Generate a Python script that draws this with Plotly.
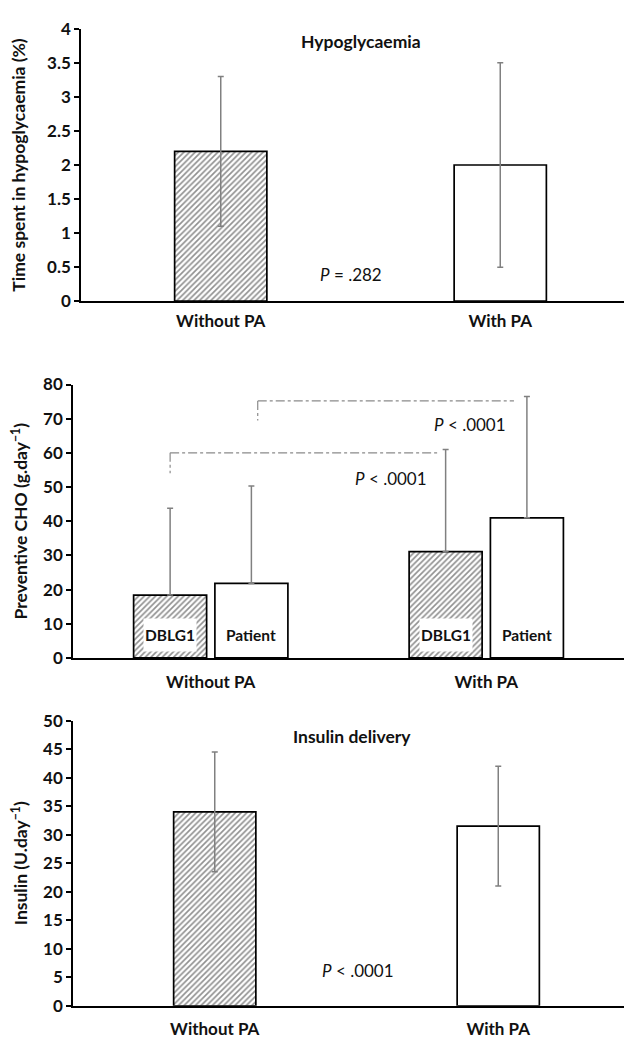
import plotly.graph_objects as go

# ---------------- data ----------------
categories = ["Without PA", "With PA"]

hypo_mean = [2.2, 2.0]
hypo_sd = [1.1, 1.5]
hypo_p = "<i>P</i> = .282"

cho_groups = ["DBLG1", "Patient"]
cho_dblg1 = [18.4, 31.1]
cho_dblg1_sd = [25.4, 29.9]
cho_patient = [21.8, 41.0]
cho_patient_sd = [28.5, 35.5]
cho_brackets = [60, 75.2]          # bracket levels (g/day)
cho_bracket_drop = [54, 69.5]
cho_p_text = ["<i>P</i> < .0001", "<i>P</i> < .0001"]

insulin_mean = [34.0, 31.5]
insulin_sd = [10.5, 10.5]
insulin_p = "<i>P</i> < .0001"

FONT = "Lato"
W, H = 632, 1046
OFF = 8  # page offset of the plot inside the browser body

hatch = dict(shape="/", fgcolor="#222222", bgcolor="white", size=4, solidity=0.42, fillmode="overlay")
err_style = dict(type="data", color="#808080", thickness=1.5, width=3, visible=True)
outline = dict(color="black", width=1.7)


def ydom(top_px, bot_px):
    top_px -= OFF
    bot_px -= OFF
    return [1 - bot_px / H, 1 - top_px / H]


def xstart(px):
    return (px - OFF) / W


fig = go.Figure()

# ---- panel 1: hypoglycaemia
fig.add_trace(go.Bar(
    x=categories[:1], y=hypo_mean[:1], width=0.33, xaxis="x", yaxis="y",
    marker=dict(color="white", line=outline, pattern=hatch),
    error_y=dict(array=hypo_sd[:1], **err_style), showlegend=False))
fig.add_trace(go.Bar(
    x=categories[1:], y=hypo_mean[1:], width=0.33, xaxis="x", yaxis="y",
    marker=dict(color="white", line=outline),
    error_y=dict(array=hypo_sd[1:], **err_style), showlegend=False))

# ---- panel 2: preventive CHO
off_d, off_p, bw = -0.28, 0.015, 0.265
fig.add_trace(go.Bar(
    x=categories, y=cho_dblg1, width=bw, offset=off_d, xaxis="x2", yaxis="y2",
    marker=dict(color="white", line=outline, pattern=hatch),
    error_y=dict(array=cho_dblg1_sd, arrayminus=[0, 0], **err_style), showlegend=False))
fig.add_trace(go.Bar(
    x=categories, y=cho_patient, width=bw, offset=off_p, xaxis="x2", yaxis="y2",
    marker=dict(color="white", line=outline),
    error_y=dict(array=cho_patient_sd, arrayminus=[0, 0], **err_style), showlegend=False))

# ---- panel 3: insulin
fig.add_trace(go.Bar(
    x=categories[:1], y=insulin_mean[:1], width=0.29, xaxis="x3", yaxis="y3",
    marker=dict(color="white", line=outline, pattern=hatch),
    error_y=dict(array=insulin_sd[:1], **err_style), showlegend=False))
fig.add_trace(go.Bar(
    x=categories[1:], y=insulin_mean[1:], width=0.29, xaxis="x3", yaxis="y3",
    marker=dict(color="white", line=outline),
    error_y=dict(array=insulin_sd[1:], **err_style), showlegend=False))

tickfont = dict(family=FONT, size=17, color="#111", weight="bold")
titlefont = dict(family=FONT, size=17.5, color="#111", weight="bold")


def xax(domain, standoff, anchor, rng):
    return dict(domain=domain, type="category", showline=True, linecolor="black", linewidth=1.6,
                ticks="", showgrid=False, zeroline=False, tickfont=tickfont, anchor=anchor,
                ticklabelstandoff=standoff, range=rng, fixedrange=True)


def yax(domain, rng, dtick, title, anchor, tstandoff):
    return dict(domain=domain, range=rng, dtick=dtick, showline=True, linecolor="black", linewidth=1.6,
                ticks="outside", ticklen=5, tickwidth=1.5, tickcolor="black", showgrid=False,
                zeroline=False, tickfont=tickfont, anchor=anchor, fixedrange=True,
                title=dict(text=title, font=titlefont, standoff=tstandoff))


fig.update_layout(
    width=W, height=H, margin=dict(l=0, r=0, t=0, b=0),
    paper_bgcolor="white", plot_bgcolor="white", barmode="overlay",
    xaxis=xax([xstart(81), 1], 4, "y", [-0.5, 1.5]),
    yaxis=yax(ydom(18, 296), [0, 4], 0.5, "Time spent in hypoglycaemia (%)", "x", 17),
    xaxis2=xax([xstart(73), 1], 8, "y2", [-0.5, 1.558]),
    yaxis2=yax(ydom(381, 660), [0, 80], 10, "Preventive CHO (g.day<sup>\u22121</sup>)", "x2", 15),
    xaxis3=xax([xstart(73), 1], 7, "y3", [-0.5, 1.5]),
    yaxis3=yax(ydom(724, 1015), [0, 50], 5, "Insulin (U.day<sup>\u22121</sup>)", "x3", 12),
)

ann = []
bold_t = dict(family=FONT, size=17.5, color="#111", weight="bold")
reg = dict(family=FONT, size=17, color="#111")
# panel titles
ann.append(dict(text="Hypoglycaemia", x=0.5, y=3.82, xref="x", yref="y", showarrow=False, font=bold_t))
ann.append(dict(text="Preventive CHO", x=0.32, y=83.4, xref="x2", yref="y2", showarrow=False, font=bold_t))
ann.append(dict(text="Insulin delivery", x=0.485, y=47.3, xref="x3", yref="y3", showarrow=False, font=bold_t))
# p values
ann.append(dict(text=hypo_p, x=0.467, y=0.39, xref="x", yref="y", showarrow=False, font=reg))
ann.append(dict(text=insulin_p, x=0.506, y=6.25, xref="x3", yref="y3", showarrow=False, font=reg))
ann.append(dict(text=cho_p_text[0], x=0.653, y=52.6, xref="x2", yref="y2", showarrow=False, font=reg))
ann.append(dict(text=cho_p_text[1], x=0.94, y=68.4, xref="x2", yref="y2", showarrow=False, font=reg))
# in-bar group labels
lab_font = dict(family=FONT, size=15.5, color="#111", weight="bold")
for i in range(len(categories)):
    ann.append(dict(text=cho_groups[0], x=i + off_d + bw / 2, y=6.8, xref="x2", yref="y2", showarrow=False,
                    font=lab_font, bgcolor="white", width=50, height=30))
    ann.append(dict(text=cho_groups[1], x=i + off_p + bw / 2, y=6.8, xref="x2", yref="y2", showarrow=False,
                    font=lab_font))
fig.update_layout(annotations=ann)

# significance brackets (dash-dot)
line = dict(color="#8a8a8a", width=1.2, dash="dashdot")
c_d = [i + off_d + bw / 2 for i in range(2)]
c_p = [i + off_p + bw / 2 for i in range(2)]
shapes = [
    dict(type="line", xref="x2", yref="y2", x0=c_d[0], x1=c_d[1] - 0.03, y0=cho_brackets[0], y1=cho_brackets[0], line=line),
    dict(type="line", xref="x2", yref="y2", x0=c_d[0], x1=c_d[0], y0=cho_brackets[0], y1=cho_bracket_drop[0], line=line),
    dict(type="line", xref="x2", yref="y2", x0=c_p[0] + 0.023, x1=c_p[1] - 0.047, y0=cho_brackets[1], y1=cho_brackets[1], line=line),
    dict(type="line", xref="x2", yref="y2", x0=c_p[0] + 0.023, x1=c_p[0] + 0.023, y0=cho_brackets[1], y1=cho_bracket_drop[1], line=line),
]
fig.update_layout(shapes=shapes)

fig.write_html("out.html")
